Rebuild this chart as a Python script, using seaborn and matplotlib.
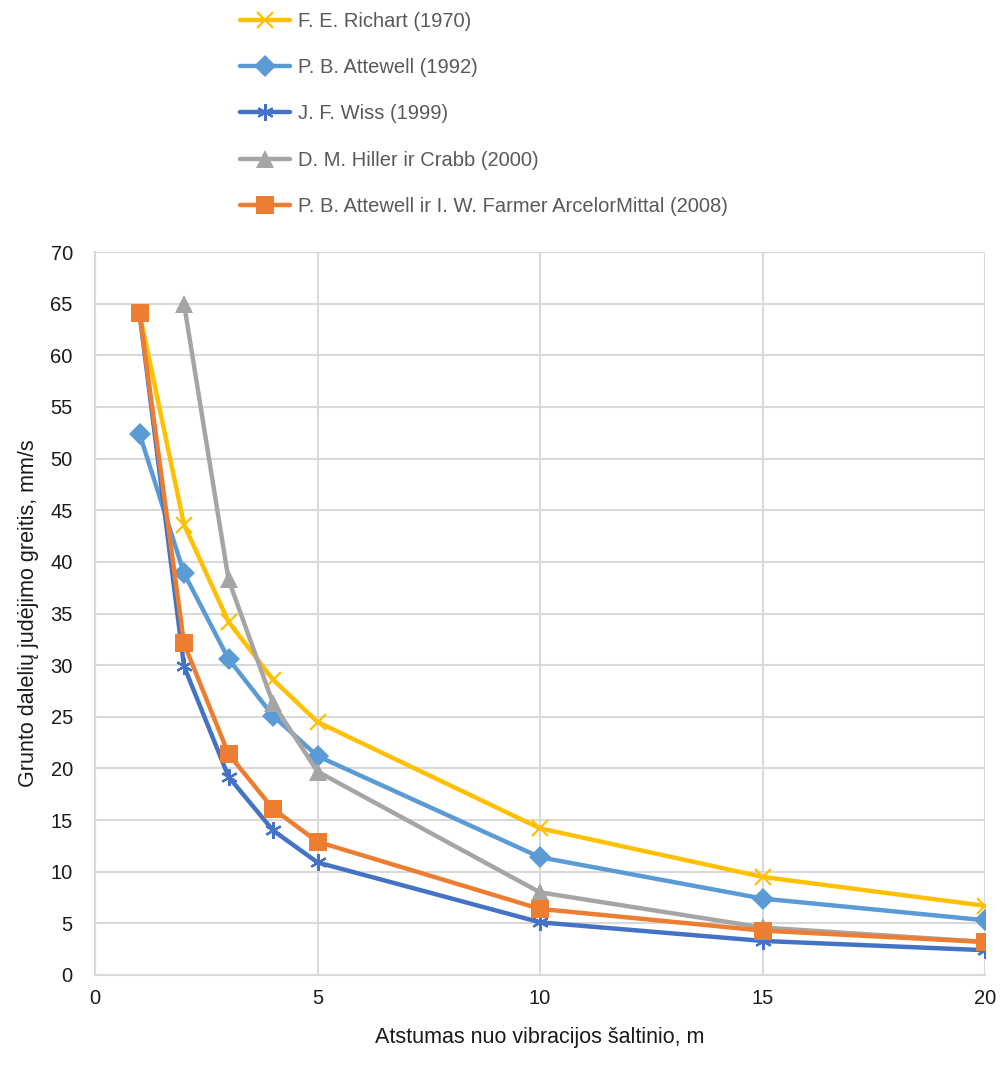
import matplotlib
matplotlib.use("Agg")
import matplotlib.pyplot as plt
import seaborn as sns
import pandas as pd

# Distance from the vibration source, m
distance = [1, 2, 3, 4, 5, 10, 15, 20]

# Peak particle velocity, mm/s
richart = [64.1, 43.6, 34.2, 28.6, 24.5, 14.2, 9.5, 6.7]
attewell_1992 = [52.4, 38.9, 30.6, 25.1, 21.2, 11.4, 7.4, 5.3]
wiss = [64.1, 29.9, 19.2, 14.0, 10.9, 5.1, 3.3, 2.4]
hiller_crabb_x = [2, 3, 4, 5, 10, 15, 20]
hiller_crabb = [65.0, 38.3, 26.3, 19.7, 8.0, 4.6, 3.2]
attewell_farmer = [64.1, 32.1, 21.4, 16.1, 12.9, 6.4, 4.3, 3.2]

series_names = [
    "F. E. Richart (1970)",
    "P. B. Attewell (1992)",
    "J. F. Wiss (1999)",
    "D. M. Hiller ir Crabb (2000)",
    "P. B. Attewell ir I. W. Farmer ArcelorMittal (2008)",
]

x_ticks = [0, 5, 10, 15, 20]
y_ticks = list(range(0, 75, 5))

frames = [
    pd.DataFrame({"x": distance, "v": richart, "s": series_names[0]}),
    pd.DataFrame({"x": distance, "v": attewell_1992, "s": series_names[1]}),
    pd.DataFrame({"x": distance, "v": wiss, "s": series_names[2]}),
    pd.DataFrame({"x": hiller_crabb_x, "v": hiller_crabb, "s": series_names[3]}),
    pd.DataFrame({"x": distance, "v": attewell_farmer, "s": series_names[4]}),
]
df = pd.concat(frames, ignore_index=True)

sns.set_theme(style="white")
plt.rcParams["font.family"] = ["Liberation Sans", "DejaVu Sans"]

colors = ["#FFC000", "#5B9BD5", "#4472C4", "#A5A5A5", "#ED7D31"]
palette = dict(zip(series_names, colors))
markers = {
    series_names[0]: "x",
    series_names[1]: "D",
    series_names[2]: (6, 2, 0),
    series_names[3]: "^",
    series_names[4]: "s",
}
msizes = {
    series_names[0]: 12,
    series_names[1]: 11,
    series_names[2]: 12,
    series_names[3]: 13,
    series_names[4]: 13,
}

fig = plt.figure(figsize=(10.01, 10.65), dpi=100)
ax = fig.add_axes([95 / 1001, 1 - 975 / 1065, 890 / 1001, 723 / 1065])

legend_color = "#595959"
text_color = "#1A1A1A"
grid_color = "#D9D9D9"

handles = []
for name in series_names:
    sub = df[df["s"] == name]
    sns.lineplot(
        data=sub, x="x", y="v", ax=ax, color=palette[name],
        marker=markers[name], markersize=msizes[name],
        markeredgewidth=1.6 if name in (series_names[0], series_names[2]) else 0,
        markeredgecolor=palette[name],
        linewidth=3.2, label=name, legend=False, zorder=3,
    )
    handles.append(ax.lines[-1])

ax.set_xlim(0, 20)
ax.set_ylim(0, 70)
ax.set_xticks(x_ticks)
ax.set_yticks(y_ticks)
ax.grid(True, color=grid_color, linewidth=1.5, zorder=0)
for side in ["top", "right"]:
    ax.spines[side].set_visible(False)
for side in ["left", "bottom"]:
    ax.spines[side].set_color(grid_color)
    ax.spines[side].set_linewidth(1.5)
ax.tick_params(axis="y", colors=text_color, labelsize=14.5, length=0, pad=16)
ax.tick_params(axis="x", colors=text_color, labelsize=14.5, length=0, pad=10)
ax.set_xlabel("Atstumas nuo vibracijos šaltinio, m", color=text_color, fontsize=15.5, labelpad=14)
ax.set_ylabel("Grunto dalelių judėjimo greitis, mm/s", color=text_color, fontsize=15.5, labelpad=8)

fig.legend(
    handles=handles, labels=series_names, loc="upper left",
    bbox_to_anchor=(228 / 1001, 1 + 0 / 1065), frameon=False,
    fontsize=14.5, labelcolor=legend_color, handlelength=2.5,
    handletextpad=0.4, labelspacing=1.35, borderaxespad=0.2,
)

fig.savefig("out.png", dpi=100)
